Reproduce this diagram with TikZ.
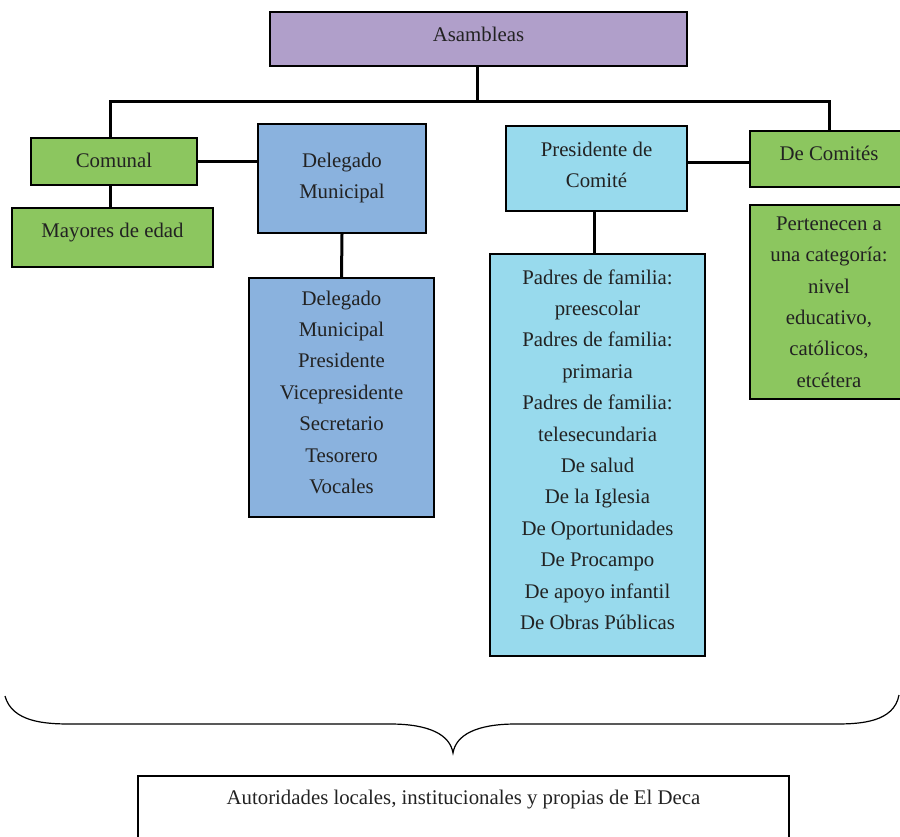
\documentclass[tikz,border=0pt]{standalone}
\usepackage{fontspec}
\setmainfont{Liberation Serif}
\usepackage{tikz}
\usetikzlibrary{positioning,calc}

\definecolor{morado}{HTML}{B09FCA}
\definecolor{azul}{HTML}{8AB2DE}
\definecolor{celeste}{HTML}{98DAED}
\definecolor{verde}{HTML}{8CC65F}
\definecolor{texto}{HTML}{222222}

\tikzset{
    caja/.style={draw=black, line width=2pt, text=texto, align=center, inner sep=2pt, text depth=11pt},
    linea/.style={line width=3pt},
}

\begin{document}
\begin{tikzpicture}[x=1pt, y=-1pt, font=\fontsize{20.8}{31.4}\selectfont]
    \useasboundingbox (0,0) rectangle (900,836);
    \clip (0,0) rectangle (900,836);

    \node[caja, fill=morado, minimum width=417pt, minimum height=54pt, text depth=9pt] (asam) at (478.5,39) {Asambleas};
    \node[caja, fill=verde, minimum width=166pt, minimum height=47pt, text depth=3pt] (comunal) at (114,161.5) {Comunal};
    \node[caja, fill=verde, minimum width=201pt, minimum height=59pt, text depth=15pt] (mayores) at (112.5,237.5) {Mayores de edad};
    \node[caja, fill=azul, minimum width=168pt, minimum height=109pt, text depth=5pt] (delegado) at (342,178.5) {Delegado\\Municipal};
    \node[caja, fill=azul, minimum width=185pt, minimum height=239pt] (cargos) at (341.5,397.5)
        {Delegado\\Municipal\\Presidente\\Vicepresidente\\Secretario\\Tesorero\\Vocales};
    \node[caja, fill=celeste, minimum width=181pt, minimum height=85pt, text depth=7pt] (presidente) at (596.5,168.5) {Presidente de\\Comité};
    \node[caja, fill=celeste, minimum width=215pt, minimum height=402pt] (padres) at (597.5,455)
        {Padres de familia:\\preescolar\\Padres de familia:\\primaria\\Padres de familia:\\telesecundaria\\De salud\\De la Iglesia\\De Oportunidades\\De Procampo\\De apoyo infantil\\De Obras Públicas};
    \node[caja, fill=verde, minimum width=158pt, minimum height=56pt] (comites) at (829,159) {De Comités};
    \node[caja, fill=verde, minimum width=158pt, minimum height=194pt, text depth=-5pt] (pertenecen) at (829,302)
        {Pertenecen a\\una categoría:\\nivel\\educativo,\\católicos,\\etcétera};
    \node[caja, line width=1.5pt, anchor=north, minimum width=651pt, inner ysep=8pt, text height=21pt, text depth=60pt]
        (autoridades) at (463.5,775) {Autoridades locales, institucionales y propias de El Deca};

    \coordinate (bus) at (477,101);
    \draw[linea] (asam.south -| bus) -- (bus);
    \draw[linea] (comunal.north -| 110,0) |- (bus) -| (comites.north);
    \draw[linea] (110,0 |- comunal.south) -- (110,0 |- mayores.north);
    \draw[linea] (comunal.east) -- (comunal.east -| delegado.west);
    \draw[linea] (delegado.south) -- (cargos.north);
    \draw[linea] (comites.west |- 0,162) -- (presidente.east |- 0,162);
    \draw[linea] (594,0 |- presidente.south) -- (594,0 |- padres.north);

    % llave
    \coordinate (punta) at (453,753);
    \draw[line width=1.2pt] (5,696) .. controls (12,722) and (45,724) .. (70,724) -- (390,724)
        .. controls (430,724) and (450,735) .. (punta)
        .. controls (456,735) and (476,724) .. (516,724) -- (836,724)
        .. controls (861,724) and (894,722) .. (899,695);
\end{tikzpicture}
\end{document}
